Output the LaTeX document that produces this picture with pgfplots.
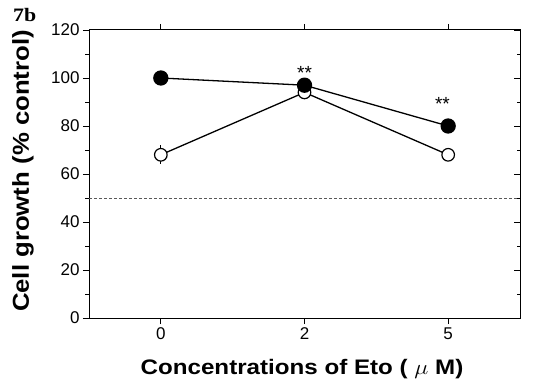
\documentclass[border=0pt]{standalone}
\usepackage{pgfplots}
\pgfplotsset{compat=1.18}
\usepackage{pgfplotstable}
\usepackage{graphicx}
\usepackage{fontspec}
\setmainfont{Liberation Sans}
\newfontfamily\serifbold{Liberation Serif}

% Cell growth (% of control) at 0, 2 and 5 uM Eto
\pgfplotstableread{
x y
0 100
1 97
2 80
}\combined
\pgfplotstableread{
x y err
0 68 4
1 94 0
2 68 0
}\etoalone

\newcommand{\tickfont}{\fontsize{17}{17}\selectfont}

\begin{document}
\begin{tikzpicture}
\useasboundingbox (-89pt,-70pt) rectangle (445pt,318pt);
\begin{axis}[
  at={(0,0)}, anchor=south west,
  scale only axis, width=431pt, height=288pt,
  xmin=-0.5, xmax=2.5, ymin=0, ymax=120,
  xtick={0,1,2}, xticklabels={0,2,5},
  ytick={0,20,...,120}, minor ytick={10,30,...,110},
  tick label style={font=\tickfont},
  tick align=outside, xtick pos=both, ytick pos=left,
  major tick length=6pt, minor tick length=3.5pt,
  tick style={black, line width=0.8pt},
  axis line style={line width=1pt},
  /pgf/number format/assume math mode=true,
  clip=false,
]
\addplot[gray!70!black, line width=0.7pt, dash pattern=on 3pt off 2pt]
  coordinates {(-0.5,50) (2.5,50)};
\addplot[black, line width=1.3pt, mark=*, mark size=6.3pt,
  mark options={fill=white, line width=1.2pt}] table[x=x, y=y] {\etoalone};
\addplot[black, draw=none, mark=none,
  error bars/.cd, y dir=both, y explicit, error mark=none,
  error bar style={black, line width=0.9pt}]
  table[x=x, y=y, y error=err] {\etoalone};
% short cap seen inside the open circle at 5 uM
\addplot[black, draw=none, mark=none,
  error bars/.cd, y dir=both, y explicit, error mark=-,
  error bar style={black, line width=1.4pt},
  error mark options={mark size=2.5pt, line width=1.4pt}]
  coordinates {(2,68) +- (0,0)};
\addplot[black, line width=1.3pt, mark=*, mark size=7pt,
  mark options={fill=black}] table[x=x, y=y] {\combined};
\node[font=\fontsize{19}{19}\selectfont] at (axis cs:1,102) {**};
\node[font=\fontsize{19}{19}\selectfont] at (axis cs:1.96,89) {**};
\end{axis}
\begin{axis}[
  at={(0,0)}, anchor=south west,
  scale only axis, width=431pt, height=288pt,
  xmin=-0.5, xmax=2.5, ymin=0, ymax=120,
  axis x line=none, axis y line*=right,
  ytick={0,20,...,120}, minor ytick={10,30,...,110},
  yticklabels={}, tick align=inside,
  major tick length=6pt, minor tick length=3.5pt,
  tick style={black, line width=0.8pt},
  axis line style={line width=1pt},
]
\end{axis}
\node[font=\bfseries\fontsize{21}{21}\selectfont] at (213pt,-51pt)
  {\scalebox{1.15}[1]{Concentrations of Eto ( $\mu$ M)}};
\node[rotate=90, font=\bfseries\fontsize{23}{23}\selectfont] at (-66pt,147pt)
  {\scalebox{1.12}[1]{Cell growth (\% control)}};
\node[font=\serifbold\bfseries\fontsize{19}{19}\selectfont, anchor=base west, inner sep=0pt]
  at (-76pt,296pt) {\scalebox{1.15}[1]{7b}};
\end{tikzpicture}
\end{document}
